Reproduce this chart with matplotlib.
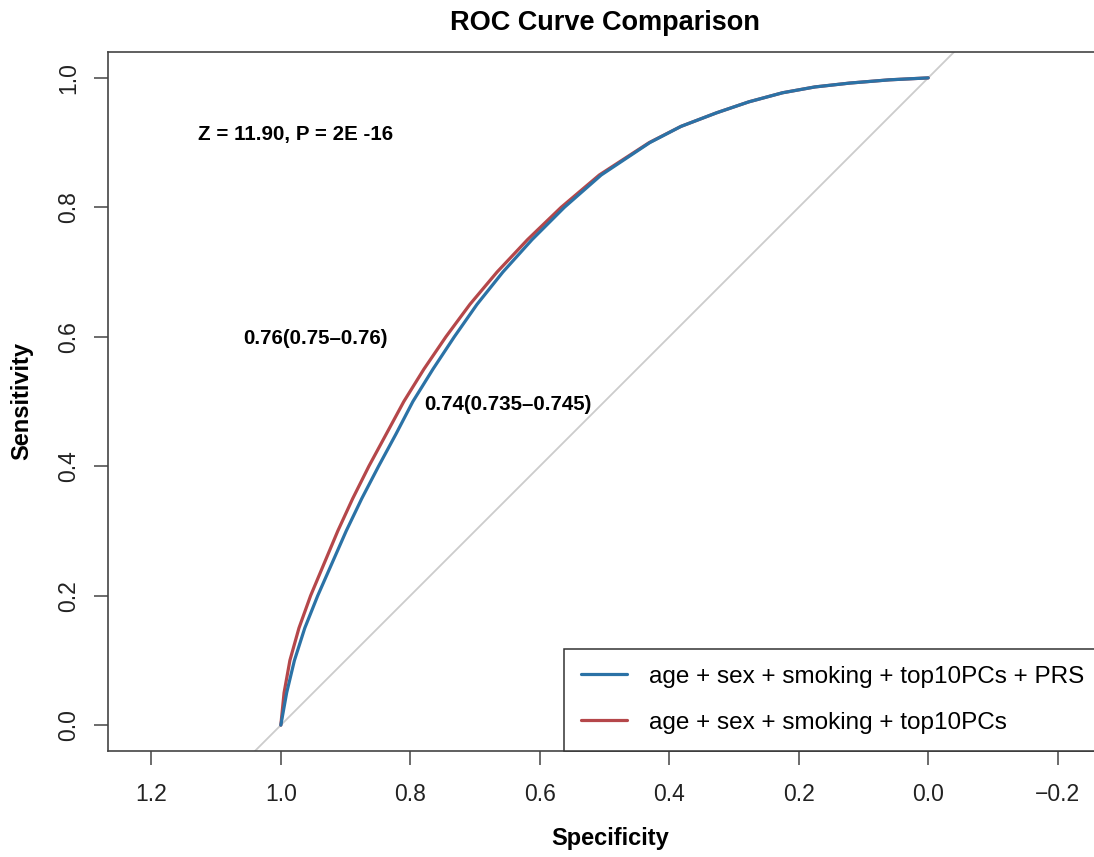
import matplotlib
matplotlib.use('Agg')
import matplotlib.pyplot as plt

plt.rcParams['font.family'] = ['Liberation Sans', 'DejaVu Sans']

# ROC curves: sensitivity levels and the specificity at each
sens_levels = [0.0, 0.05, 0.10, 0.15, 0.20, 0.25, 0.30, 0.35, 0.40, 0.45, 0.50,
               0.55, 0.60, 0.65, 0.70, 0.75, 0.80, 0.85, 0.90, 0.925, 0.946,
               0.963, 0.977, 0.986, 0.992, 0.997, 1.0]

prs_spec = [1.000, 0.991, 0.979, 0.963, 0.943, 0.921, 0.899, 0.875, 0.849, 0.822,
            0.796, 0.765, 0.732, 0.697, 0.657, 0.612, 0.562, 0.505, 0.430, 0.382,
            0.327, 0.277, 0.225, 0.175, 0.121, 0.060, 0.0]

base_spec = [1.000, 0.995, 0.986, 0.972, 0.954, 0.933, 0.912, 0.889, 0.864, 0.837,
             0.810, 0.779, 0.745, 0.708, 0.666, 0.619, 0.567, 0.508, 0.431, 0.382,
             0.327, 0.277, 0.225, 0.175, 0.121, 0.060, 0.0]

labels = ['age + sex + smoking + top10PCs + PRS', 'age + sex + smoking + top10PCs']
colors = ['#2B72A6', '#B5474A']

auc_texts = ['0.76(0.75\u20130.76)', '0.74(0.735\u20130.745)']
auc_pos = [(0.946, 0.597), (0.649, 0.495)]
test_text = 'Z = 11.90, P = 2E -16'
test_pos = (0.977, 0.912)

xticks = [1.2, 1.0, 0.8, 0.6, 0.4, 0.2, 0.0, -0.2]
yticks = [0.0, 0.2, 0.4, 0.6, 0.8, 1.0]

W, H = 1094, 857
fig = plt.figure(figsize=(W / 100, H / 100), dpi=100)
# plot box runs a little past the right edge of the image, as in the reference
left, right, top, bottom = 108, 1101, 52, 751
ax = fig.add_axes([left / W, (H - bottom) / H, (right - left) / W, (bottom - top) / H])

xlim = (1.267, -0.267)
ylim = (-0.04, 1.04)
ax.set_xlim(*xlim)
ax.set_ylim(*ylim)

# chance diagonal
ax.plot([xlim[0], xlim[1]], [1 - xlim[0], 1 - xlim[1]], color='#CCCCCC', lw=1.3, zorder=1)

line_kw = dict(lw=2.3, solid_joinstyle='round', solid_capstyle='round')
ax.plot(prs_spec, sens_levels, color=colors[0], zorder=3, label=labels[0], **line_kw)
ax.plot(base_spec, sens_levels, color=colors[1], zorder=2, label=labels[1], **line_kw)

ax.text(*test_pos, test_text, fontsize=14.8, fontweight='bold', ha='center', va='center')
for txt, pos in zip(auc_texts, auc_pos):
    ax.text(*pos, txt, fontsize=14.8, fontweight='bold', ha='center', va='center')

ax.set_xticks(xticks)
ax.set_xticklabels([f'{v:.1f}'.replace('-', '\u2212') for v in xticks])
ax.set_yticks(yticks)
ax.set_yticklabels([f'{v:.1f}' for v in yticks], rotation=90, va='center')
ax.tick_params(axis='both', direction='out', length=10, width=1.1, color='#444444',
               labelsize=16.5, labelcolor='#222222')
ax.tick_params(axis='x', pad=13)
ax.tick_params(axis='y', pad=10)

for sp in ax.spines.values():
    sp.set_color('#444444')
    sp.set_linewidth(1.2)

ax.set_title('ROC Curve Comparison', fontsize=19.5, fontweight='bold', pad=16)
ax.set_xlabel('Specificity', fontsize=17, fontweight='bold', va='center')
ax.xaxis.set_label_coords((610 - left) / (right - left), -(838 - bottom) / (bottom - top))
ax.set_ylabel('Sensitivity', fontsize=17, fontweight='bold', va='center')
ax.yaxis.set_label_coords(-(left - 22) / (right - left), 0.5)

leg = ax.legend(loc='lower right', bbox_to_anchor=(1.0, 0.0), borderaxespad=0,
                fontsize=17.5, frameon=True, fancybox=False, framealpha=1,
                edgecolor='#333333', handlelength=1.9, handletextpad=0.9,
                labelspacing=1.0, borderpad=0.7)
leg.get_frame().set_linewidth(1.1)
for line in leg.get_lines():
    line.set_linewidth(2.3)

fig.savefig('out.png', dpi=100)
